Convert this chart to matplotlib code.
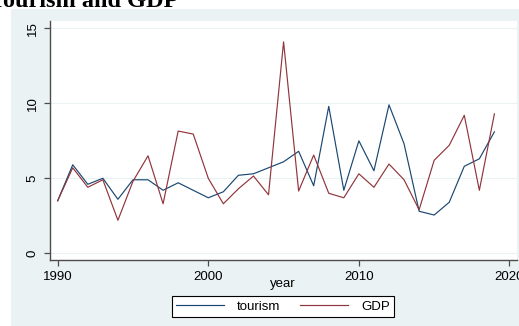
import numpy as np
import matplotlib
matplotlib.use("Agg")
import matplotlib.pyplot as plt
from matplotlib.patches import Rectangle

# values
years = list(range(1990, 2020))
tourism = [3.5, 5.9, 4.6, 5.0, 3.6, 4.9, 4.9, 4.2, 4.7, 4.2,
           3.7, 4.1, 5.2, 5.3, 5.7, 6.1, 6.8, 4.5, 9.8, 4.2,
           7.5, 5.5, 9.9, 7.3, 2.8, 2.55, 3.4, 5.8, 6.3, 8.1]
gdp = [3.5, 5.7, 4.4, 4.9, 2.2, 4.8, 6.5, 3.3, 8.15, 7.95,
       5.0, 3.3, 4.3, 5.15, 3.9, 14.1, 4.15, 6.55, 4.0, 3.7,
       5.3, 4.4, 5.95, 4.9, 2.9, 6.2, 7.2, 9.2, 4.2, 9.3]
xticks = [1990, 2000, 2010, 2020]
yticks = [0, 5, 10, 15]

W, H = 519, 326
bg = "#eaf2f3"
navy = "#1a476f"
maroon = "#90353b"

plt.rcParams['font.family'] = ['Liberation Sans', 'DejaVu Sans']

fig = plt.figure(figsize=(W / 100, H / 100), dpi=100)
fig.patch.set_facecolor("white")

# graph region (light blue-grey)
fig.patches.append(Rectangle((11 / W, 0), (W - 11) / W, (H - 9) / H,
                             transform=fig.transFigure, facecolor=bg,
                             edgecolor="none", zorder=-5))

# title, partly cut off at the top left like the source
fig.text(-11 / W, 1 - 7 / H, "Tourism and GDP", family="Liberation Serif",
         fontweight="bold", fontsize=17.5, ha="left", va="baseline")

ax = fig.add_axes([50 / W, (H - 260) / H, (517 - 50) / W, (260 - 21) / H])
ax.set_zorder(2)
ax.set_facecolor("white")
ax.plot(years, tourism, color=navy, lw=0.85, label="tourism")
ax.plot(years, gdp, color=maroon, lw=0.85, label="GDP")

ax.set_xlim(1989.49, 2020.5)
ax.set_ylim(-0.45, 15.49)
ax.set_xticks(xticks)
ax.set_yticks(yticks)
ax.set_yticklabels([str(v) for v in yticks], rotation=90, va="center")
ax.grid(axis="y", color=bg, lw=0.8)
ax.set_axisbelow(True)
for s in ["top", "right"]:
    ax.spines[s].set_visible(False)
for s in ["left", "bottom"]:
    ax.spines[s].set_color("#4d4d4d")
    ax.spines[s].set_linewidth(1.0)
ax.tick_params(colors="#4d4d4d", labelcolor="black", labelsize=9.5,
               length=4, width=0.9, pad=4)

fig.text(283 / W, 1 - 284 / H, "year", ha="center", va="center", fontsize=9.5)

leg = fig.legend(loc="center", bbox_to_anchor=(283 / W, 1 - 306.5 / H), ncol=2,
                 fontsize=9.5, frameon=True, fancybox=False, handlelength=3.6,
                 columnspacing=1.5, handletextpad=1.0, borderpad=0.3,
                 borderaxespad=0)
leg.set_zorder(3)
leg.get_frame().set_edgecolor("black")
leg.get_frame().set_linewidth(0.8)
leg.get_frame().set_facecolor("white")
leg.get_frame().set_alpha(1)

fig.savefig("out.png", dpi=100, facecolor=fig.get_facecolor())
